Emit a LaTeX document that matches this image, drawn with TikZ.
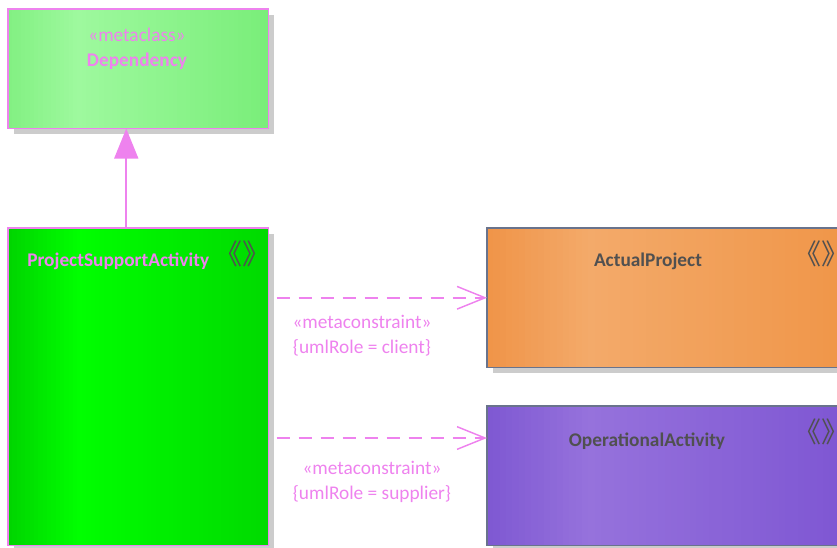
\documentclass[tikz,border=0pt]{standalone}
\usepackage{fontspec}
\setmainfont{Carlito}
\newfontfamily\cjkfont{Noto Sans CJK SC}
\usetikzlibrary{arrows.meta,shadows,calc}
\definecolor{umlviolet}{RGB}{238,130,238}
\definecolor{umlslate}{RGB}{105,115,140}
\definecolor{umlgray}{RGB}{80,80,80}
\definecolor{shadowgray}{RGB}{204,204,204}
\definecolor{depL}{RGB}{130,240,130}\definecolor{depM}{RGB}{158,249,158}\definecolor{depR}{RGB}{122,238,122}
\definecolor{psaL}{RGB}{0,212,0}\definecolor{psaM}{RGB}{0,255,0}\definecolor{psaR}{RGB}{0,218,0}
\definecolor{apL}{RGB}{240,148,72}\definecolor{apM}{RGB}{243,170,106}\definecolor{apR}{RGB}{240,148,70}
\definecolor{oaL}{RGB}{126,88,210}\definecolor{oaM}{RGB}{150,114,220}\definecolor{oaR}{RGB}{124,84,210}

\begin{document}
\begin{tikzpicture}[x=0.75pt,y=-0.75pt,
  umlbox/.style={rectangle, inner sep=0pt, anchor=north west,
    drop shadow={shadow xshift=4.5pt, shadow yshift=-4.5pt, fill=shadowgray, opacity=1}},
  umltext/.style={font=\fontsize{14.5}{18.75}\selectfont, inner sep=0pt},
  umlname/.style={font=\fontsize{14.5}{18.75}\selectfont\bfseries, inner sep=0pt},
  umlicon/.style={font=\cjkfont\fontsize{21}{24}\selectfont, text=umlgray, inner sep=0pt},
  metalink/.style={umlviolet, line width=1.1pt, dash pattern=on 9.75pt off 6.75pt, -{Straight Barb[length=21pt,width=17pt]}}]
\path[use as bounding box] (0,0) rectangle (837,547); \clip (0,0) rectangle (837,547);
\node[umlbox, minimum width=195pt, minimum height=89.25pt] (dep) at (8,9) {};
\node[umlbox, minimum width=195pt, minimum height=237.75pt] (psa) at (8,228) {};
\node[umlbox, minimum width=285pt, minimum height=104.25pt] (ap) at (487,228) {};
\node[umlbox, minimum width=285pt, minimum height=104.25pt] (oa) at (487,406) {};
\foreach \bx/\cl/\cm/\cr/\bd in {dep/depL/depM/depR/umlviolet, psa/psaL/psaM/psaR/umlviolet, ap/apL/apM/apR/umlslate, oa/oaL/oaM/oaR/umlslate} {
  \foreach \i in {0,...,59} {
    \pgfmathsetmacro{\ta}{\i/60} \pgfmathsetmacro{\tb}{min(1,(\i+1.3)/60)} \pgfmathsetmacro{\tm}{(\i+0.5)/60}
    \pgfmathtruncatemacro{\side}{\tm<0.27 ? 1 : 0}
    \pgfmathtruncatemacro{\pct}{\tm<0.27 ? 100*\tm/0.27 : 100*(1-\tm)/0.73}
    \ifnum\side=1 \def\edge{\cl}\else\def\edge{\cr}\fi
    \fill[\cm!\pct!\edge] ($(\bx.north west)!\ta!(\bx.north east)$) rectangle ($(\bx.south west)!\tb!(\bx.south east)$); }
  \draw[\bd, line width=1.2pt] (\bx.north west) rectangle (\bx.south east); }
\coordinate (oain) at ([yshift=-24pt]oa.north west);
\node[umltext, text=umlviolet] (depstereo) at (137,35) {«metaclass»};
\node[umlname, text=umlviolet] (depname) at (137,61.5) {Dependency};
\node[umlname, text=umlviolet, anchor=west] (psaname) at (27,261) {ProjectSupportActivity};
\node[umlicon] (psaicon) at (242,254) {《》};
\node[umlname, text=umlgray] (apname) at (648,261) {ActualProject};
\node[umlicon] (apicon) at (821,254) {《》};
\node[umlname, text=umlgray] (oaname) at (647,441) {OperationalActivity};
\node[umlicon] (oaicon) at (821,432) {《》};
\draw[umlviolet, line width=1.2pt, -{Triangle[length=22.5pt,width=18pt]}] ([xshift=-9pt]psa.north) -- ([xshift=-9pt]dep.south);
\draw[metalink] ([xshift=6pt]psa.east |- ap.west) -- (ap.west);
\draw[metalink] ([xshift=6pt]psa.east |- oain) -- (oain);
\node[umltext, text=umlviolet, align=center] (aplabel) at (362,335.5) {«metaconstraint»\\{\{}umlRole = client{\}}};
\node[umltext, text=umlviolet, align=center] (oalabel) at (372,481.5) {«metaconstraint»\\{\{}umlRole = supplier{\}}};
\end{tikzpicture}
\end{document}
